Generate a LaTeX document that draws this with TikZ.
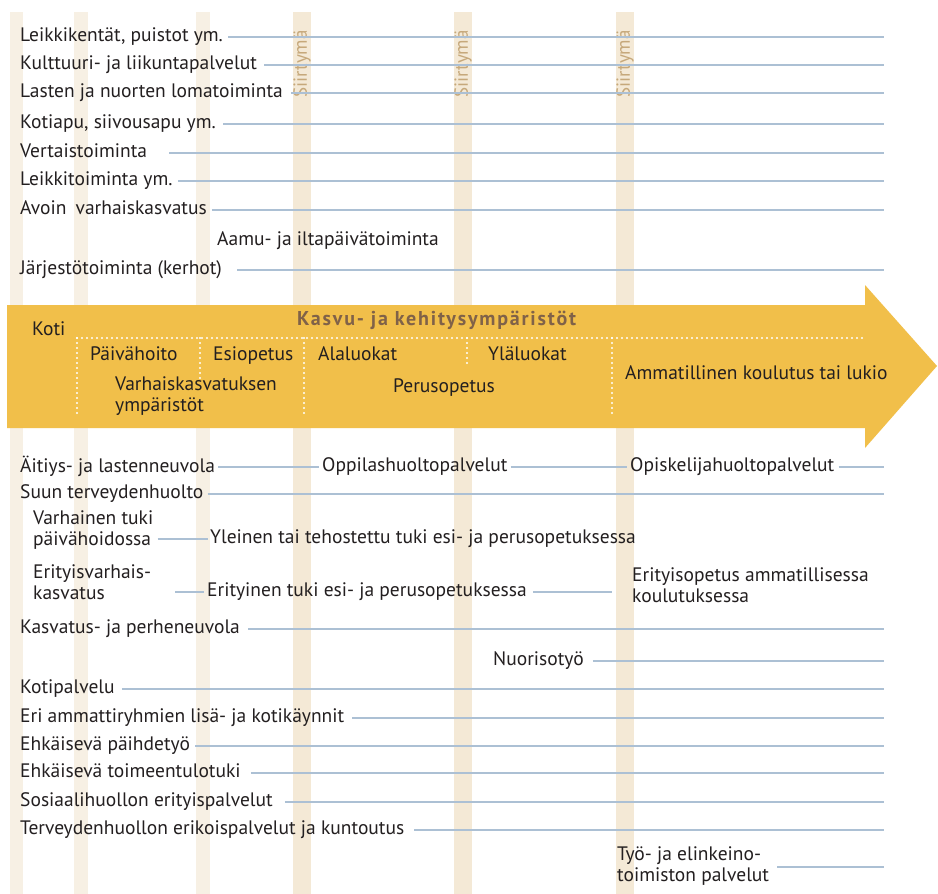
\documentclass[tikz,border=0pt]{standalone}
\usepackage{fontspec}
\setmainfont{PT Sans}
\usetikzlibrary{calc}
\definecolor{arrowc}{RGB}{241,191,74}
\definecolor{colc}{RGB}{247,240,228}
\definecolor{sirc}{RGB}{244,233,214}
\definecolor{sirtext}{RGB}{198,168,122}
\definecolor{linec}{RGB}{172,192,212}
\definecolor{txt}{RGB}{35,31,32}
\definecolor{headc}{RGB}{128,98,72}
\begin{document}
\begin{tikzpicture}[x=1pt,y=-1pt,
  lbl/.style={font=\fontsize{19.5}{21}\selectfont, text=txt, inner sep=0pt, anchor=west},
  ml/.style={lbl, align=left},
  conn/.style={draw=linec, line width=2.2pt},
  wdot/.style={draw=white, line width=2.2pt, line cap=round, dash pattern=on 0pt off 5pt}]
\useasboundingbox (0,0) rectangle (938,894);
\fill[white] (0,0) rectangle (938,894);
\coordinate (R) at (884,0);
% transition columns
\foreach \a/\b in {10/23, 74/88, 196/210} \fill[colc] (\a,12) rectangle (\b,894);
\foreach \xc in {302,463,625} {
  \fill[sirc] (\xc-9,12) rectangle (\xc+9,894);
  \node[rotate=90, text=sirtext, inner sep=0pt, font=\fontsize{19}{20}\selectfont] (s\xc) at (\xc,64) {Siirtymä};
}
% top rows
\node[lbl] (t1) at (20,37) {\strut Leikkikentät, puistot ym.};
\node[lbl] (t2) at (20,65) {\strut Kulttuuri- ja liikuntapalvelut};
\node[lbl] (t3) at (20,93) {\strut Lasten ja nuorten lomatoiminta};
\node[lbl] (t4) at (20,124) {\strut Kotiapu, siivousapu ym.};
\node[lbl] (t5) at (20,153) {\strut Vertaistoiminta};
\node[lbl] (t6) at (20,181) {\strut Leikkitoiminta ym.};
\node[lbl] (t7) at (20,210) {\strut Avoin\hspace{4pt} varhaiskasvatus};
\node[lbl] (t8) at (217,241) {\strut Aamu- ja iltapäivätoiminta};
\node[lbl] (t9) at (20,270) {\strut Järjestötoiminta (kerhot)};
\draw[conn] ($(t1.east)+(5,0)$) -- (t1.east -| R);
\draw[conn] ($(t2.east)+(7,0)$) -- (t2.east -| R);
\draw[conn] ($(t3.east)+(8,0)$) -- (t3.east -| R);
\draw[conn] ($(t4.east)+(7,0)$) -- (t4.east -| R);
\draw[conn] ($(t5.east)+(22,0)$) -- (t5.east -| R);
\draw[conn] ($(t6.east)+(5,0)$) -- (t6.east -| R);
\draw[conn] ($(t7.east)+(5,0)$) -- (t7.east -| R);
\draw[conn] ($(t9.east)+(15,0)$) -- (t9.east -| R);
% big arrow
\fill[arrowc] (7,305) -- (865,305) -- (865,285) -- (937,366) -- (865,448) -- (865,428) -- (7,428) -- cycle;
\draw[wdot] (77,338) -- (866,338);
\draw[wdot] (77,338) -- (77,416);
\draw[wdot] (200,338) -- (200,378);
\draw[wdot] (304,338) -- (304,416);
\draw[wdot] (467,338) -- (467,367);
\draw[wdot] (612,338) -- (612,416);
\node[lbl] (koti) at (32,331) {\strut Koti};
\node[lbl, text=headc, font=\fontsize{20}{21}\selectfont\bfseries\addfontfeatures{LetterSpace=9}] (kasvu) at (297,321) {\strut Kasvu- ja kehitysympäristöt};
\node[lbl] (paiva) at (90,356) {\strut Päivähoito};
\node[lbl] (esi) at (213,356) {\strut Esiopetus};
\node[lbl] (ala) at (318,356) {\strut Alaluokat};
\node[lbl] (yla) at (488,356) {\strut Yläluokat};
\node[ml] (vark) at (115,397) {\strut Varhaiskasvatuksen\\\strut ympäristöt};
\node[lbl] (perus) at (393,388) {\strut Perusopetus};
\node[lbl] (amm) at (625,375) {\strut Ammatillinen koulutus tai lukio};
% lower rows
\node[lbl] (b1) at (20,467) {\strut Äitiys- ja lastenneuvola};
\node[lbl] (b1b) at (322,467) {\strut Oppilashuoltopalvelut};
\node[lbl] (b1c) at (630,467) {\strut Opiskelijahuoltopalvelut};
\draw[conn] ($(b1.east)+(3,0)$) -- ($(b1b.west)+(-3,0)$);
\draw[conn] ($(b1b.east)+(3,0)$) -- ($(b1c.west)+(-3,0)$);
\draw[conn] ($(b1c.east)+(4,0)$) -- (b1c.east -| R);
\node[lbl] (b2) at (20,494) {\strut Suun terveydenhuolto};
\draw[conn] ($(b2.east)+(4,0)$) -- (b2.east -| R);
\node[ml] (b3) at (33,531) {\strut Varhainen tuki\\\strut päivähoidossa};
\node[lbl] (yle) at (210,539) {\strut Yleinen tai tehostettu tuki esi- ja perusopetuksessa};
\draw[conn] ($(b3.east |- yle.west)+(4,0)$) -- ($(yle.west)+(-2,0)$);
\node[ml] (b4) at (33,585) {\strut Erityisvarhais-\\\strut kasvatus};
\node[lbl] (eri) at (207,592) {\strut Erityinen tuki esi- ja perusopetuksessa};
\draw[conn] ($(b4.east |- eri.west)+(24,0)$) -- ($(eri.west)+(-3,0)$);
\node[ml] (eam) at (632,588) {\strut Erityisopetus ammatillisessa\\\strut koulutuksessa};
\draw[conn] ($(eri.east)+(6,0)$) -- ($(eri.east -| eam.west)+(-20,0)$);
\node[lbl] (b5) at (20,629) {\strut Kasvatus- ja perheneuvola};
\draw[conn] ($(b5.east)+(8,0)$) -- (b5.east -| R);
\node[lbl] (b6) at (493,661) {\strut Nuorisotyö};
\draw[conn] ($(b6.east)+(9,0)$) -- (b6.east -| R);
\node[lbl] (b7) at (20,689) {\strut Kotipalvelu};
\draw[conn] ($(b7.east)+(7,0)$) -- (b7.east -| R);
\node[lbl] (b8) at (20,718) {\strut Eri ammattiryhmien lisä- ja kotikäynnit};
\draw[conn] ($(b8.east)+(8,0)$) -- (b8.east -| R);
\node[lbl] (b9) at (20,746) {\strut Ehkäisevä päihdetyö};
\draw[conn] ($(b9.east)+(5,0)$) -- (b9.east -| R);
\node[lbl] (b10) at (20,773) {\strut Ehkäisevä toimeentulotuki};
\draw[conn] ($(b10.east)+(10,0)$) -- (b10.east -| R);
\node[lbl] (b11) at (20,802) {\strut Sosiaalihuollon erityispalvelut};
\draw[conn] ($(b11.east)+(12,0)$) -- (b11.east -| R);
\node[lbl] (b12) at (20,830) {\strut Terveydenhuollon erikoispalvelut ja kuntoutus};
\draw[conn] ($(b12.east)+(10,0)$) -- (b12.east -| R);
\node[ml] (b13) at (617,867) {\strut Työ- ja elinkeino-\\\strut toimiston palvelut};
\draw[conn] ($(b13.east)+(8,0)$) -- (b13.east -| R);
\end{tikzpicture}
\end{document}
